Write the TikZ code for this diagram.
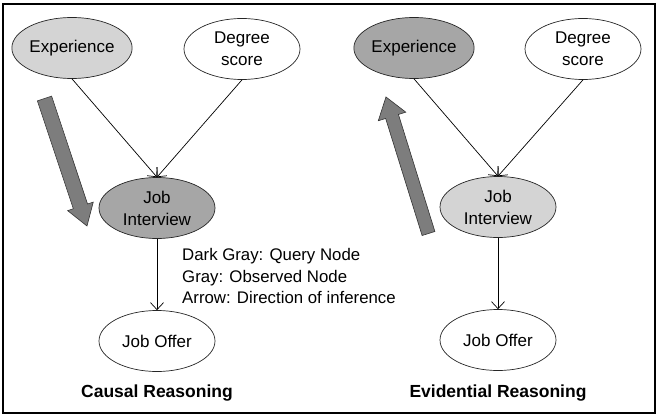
\documentclass[tikz,border=0pt]{standalone}
\usepackage{fontspec}
\setmainfont{Liberation Sans}
\usepackage{xcolor}
\usepackage{tikz}
\usetikzlibrary{arrows.meta,shapes.geometric}
\definecolor{querygray}{RGB}{166,166,166}
\definecolor{obsgray}{RGB}{212,212,212}
\definecolor{infergray}{RGB}{125,125,125}
\tikzset{
	var/.style={draw=black!85, ellipse, line width=0.7pt, inner sep=0pt, minimum width=116pt, minimum height=61pt, align=center, font=\fontsize{17}{22}\selectfont},
	query/.style={var, fill=querygray},
	observed/.style={var, fill=obsgray},
	link/.style={-{Straight Barb[length=7pt,width=13pt]}, line width=0.7pt},
	infer/.style={draw=black!80, fill=infergray, line width=0.6pt},
	legend/.style={anchor=base west, inner sep=0pt, font=\fontsize{16.8}{20}\selectfont},
	caption/.style={anchor=base, inner sep=0pt, font=\bfseries\fontsize{17.5}{20}\selectfont}
}
\begin{document}
\begin{tikzpicture}[x=1pt,y=-1pt]
			\useasboundingbox (0,0) rectangle (661,420);
			\draw[line width=1.1pt] (3,4) rectangle (655,413);
			% Causal
			\node[observed] (expC) at (72,48) {Experience};
			\node[var] (degC) at (242,49) {Degree\\score};
			\node[query] (jiC) at (157,208) {Job\\Interview};
			\node[var] (joC) at (157,341) {Job Offer};
			\draw[link] (expC.south) -- (jiC.north);
			\draw[link] (degC.south) -- (jiC.north);
			\draw[link] (jiC) -- (joC);
			\begin{scope}[shift={(44.5,98.5)}, rotate=-71.57]
			\draw[infer] (0,-7.5) -- (113.7,-7.5) -- (113.7,-13.5) -- (134.4,0) -- (113.7,13.5) -- (113.7,7.5) -- (0,7.5) -- cycle;
			\end{scope}
			\node[legend] (lgQ) at (182,260) {Dark Gray: Query Node};
			\node[legend] (lgO) at (182,282) {Gray: Observed Node};
			\node[legend] (lgA) at (182,303) {Arrow: Direction of inference};
			\node[caption] (capC) at (157,397) {Causal Reasoning};
			% Evidential
			\node[query] (expE) at (414,48) {Experience};
			\node[var] (degE) at (583,49) {Degree\\score};
			\node[observed] (jiE) at (498,207) {Job\\Interview};
			\node[var] (joE) at (498,340) {Job Offer};
			\draw[link] (expE.south) -- (jiE.north);
			\draw[link] (degE.south) -- (jiE.north);
			\draw[link] (jiE) -- (joE);
			\begin{scope}[shift={(428.5,233.5)}, rotate=107.3]
			\draw[infer] (0,-6.7) -- (122.6,-6.7) -- (122.6,-14.4) -- (143,0) -- (122.6,14.4) -- (122.6,6.7) -- (0,6.7) -- cycle;
			\end{scope}
			\node[caption] (capE) at (498,397) {Evidential Reasoning};
\end{tikzpicture}
\end{document}
